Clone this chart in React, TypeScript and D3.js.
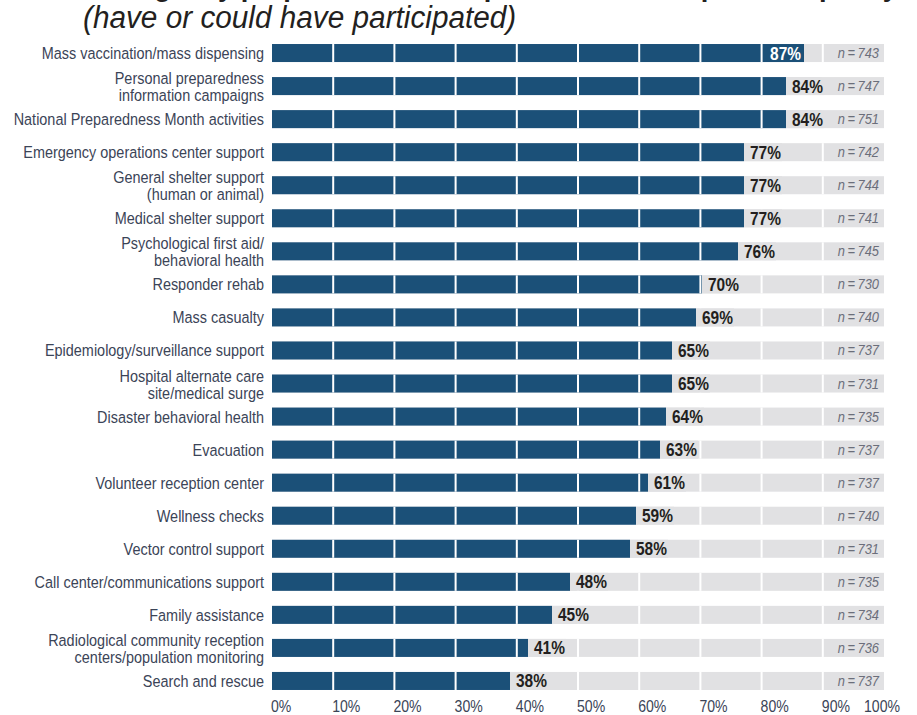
import React from "react";
import * as d3 from "d3";

const categories: string[] = [
  "Mass vaccination/mass dispensing",
  "Personal preparedness \ninformation campaigns",
  "National Preparedness Month activities",
  "Emergency operations center support",
  "General shelter support\n(human or animal)",
  "Medical shelter support",
  "Psychological first aid/\nbehavioral health",
  "Responder rehab",
  "Mass casualty",
  "Epidemiology/surveillance support",
  "Hospital alternate care\nsite/medical surge",
  "Disaster behavioral health",
  "Evacuation",
  "Volunteer reception center",
  "Wellness checks",
  "Vector control support",
  "Call center/communications support",
  "Family assistance",
  "Radiological community reception\ncenters/population monitoring",
  "Search and rescue",
];

const values: number[] = [87, 84, 84, 77, 77, 77, 76, 70, 69, 65, 65, 64, 63, 61, 59, 58, 48, 45, 41, 38];

const sampleSizes: number[] = [
  743, 747, 751, 742, 744, 741, 745, 730, 740, 737, 731, 735, 737, 737, 740, 731, 735, 734, 736, 737,
];

const tickValues: number[] = [0, 10, 20, 30, 40, 50, 60, 70, 80, 90, 100];
const gridValues: number[] = [10, 20, 30, 40, 50, 60, 70, 80, 90];

const titleLine1 = "Emergency preparedness and public health response capacity";
const titleLine2 = "(have or could have participated)";

const W = 917;
const H = 715;
const FONT = "'Liberation Sans', Arial, sans-serif";

const BLUE = "#1b5078";
const GRAY = "#e1e1e3";
const LABEL = "#3b4457";
const DARK = "#231f20";
const NCOL = "#6b6e7a";

type TProps = {
  x: number;
  y: number;
  sx: number;
  anchor?: "start" | "middle" | "end";
  children: React.ReactNode;
  [k: string]: any;
};

// Condensed text: horizontally compressed real text
function T({ x, y, sx, anchor = "start", children, ...rest }: TProps) {
  return (
    <text transform={`translate(${x},${y}) scale(${sx},1)`} textAnchor={anchor} {...rest}>
      {children}
    </text>
  );
}

export default function App() {
  const x = d3.scaleLinear().domain([0, 100]).range([282, 882]);
  const barOrigin = 272;
  const grid = d3.scaleLinear().domain([0, 100]).range([272, 884]);
  const y = d3
    .scaleBand<string>()
    .domain(categories)
    .range([36.5, 697.5])
    .paddingInner(0.455)
    .paddingOuter(0.2275);
  const bw = y.bandwidth();
  const labelX = 264;
  const SX_LABEL = 0.875;
  const SX_VAL = 0.86;

  return (
    <svg
      width={W}
      height={H}
      viewBox={`0 0 ${W} ${H}`}
      style={{ position: "absolute", left: 0, top: 0, background: "#fff" }}
      fontFamily={FONT}
    >
      <text
        x={86}
        y={-4}
        fontSize={30}
        fontWeight="bold"
        fill={DARK}
        textLength={812}
        lengthAdjust="spacingAndGlyphs"
      >
        {titleLine1}
      </text>
      <T x={83} y={28} sx={0.96} fontSize={31} fontStyle="italic" fill={DARK}>
        {titleLine2}
      </T>

      {categories.map((c, i) => {
        const v = values[i];
        const cy = (y(c) as number) + bw / 2;
        const top = y(c) as number;
        const lines = c.split("\n");
        const inside = v > 85;
        const end = x(v);
        return (
          <g key={c}>
            <rect x={grid(0)} y={top} width={grid(100) - grid(0)} height={bw} fill={GRAY} />
            <rect x={barOrigin} y={top} width={end - barOrigin} height={bw} fill={BLUE} />
            {gridValues.map((g) => (
              <rect key={g} x={grid(g) - 1} y={top} width={2} height={bw} fill="#fff" />
            ))}
            {lines.length === 1 ? (
              <T x={labelX} y={cy + 6} sx={SX_LABEL} fontSize={16.5} fill={LABEL} anchor="end">
                {lines[0]}
              </T>
            ) : (
              <g>
                <T x={labelX} y={cy - 2} sx={SX_LABEL} fontSize={16.5} fill={LABEL} anchor="end">
                  {lines[0]}
                </T>
                <T x={labelX} y={cy + 15} sx={SX_LABEL} fontSize={16.5} fill={LABEL} anchor="end">
                  {lines[1]}
                </T>
              </g>
            )}
            {inside ? (
              <T
                x={end - 3}
                y={cy + 6.5}
                sx={SX_VAL}
                fontSize={18}
                fontWeight="bold"
                fill="#fff"
                anchor="end"
              >
                {`${v}%`}
              </T>
            ) : (
              <g>
                <rect x={end} y={top} width={38} height={bw} fill={GRAY} />
                <T x={end + 6} y={cy + 6.5} sx={SX_VAL} fontSize={18} fontWeight="bold" fill={DARK}>
                  {`${v}%`}
                </T>
              </g>
            )}
            <T x={879} y={cy + 5} sx={0.92} fontSize={14} fontStyle="italic" fill={NCOL} anchor="end">
              {`n\u2009=\u2009${sampleSizes[i]}`}
            </T>
          </g>
        );
      })}

      {tickValues.map((t) => (
        <T
          key={t}
          x={t === 100 ? 900 : grid(t) - 1}
          y={712}
          sx={0.88}
          fontSize={16}
          fill={LABEL}
          anchor={t === 100 ? "end" : "start"}
        >
          {`${t}%`}
        </T>
      ))}
    </svg>
  );
}
